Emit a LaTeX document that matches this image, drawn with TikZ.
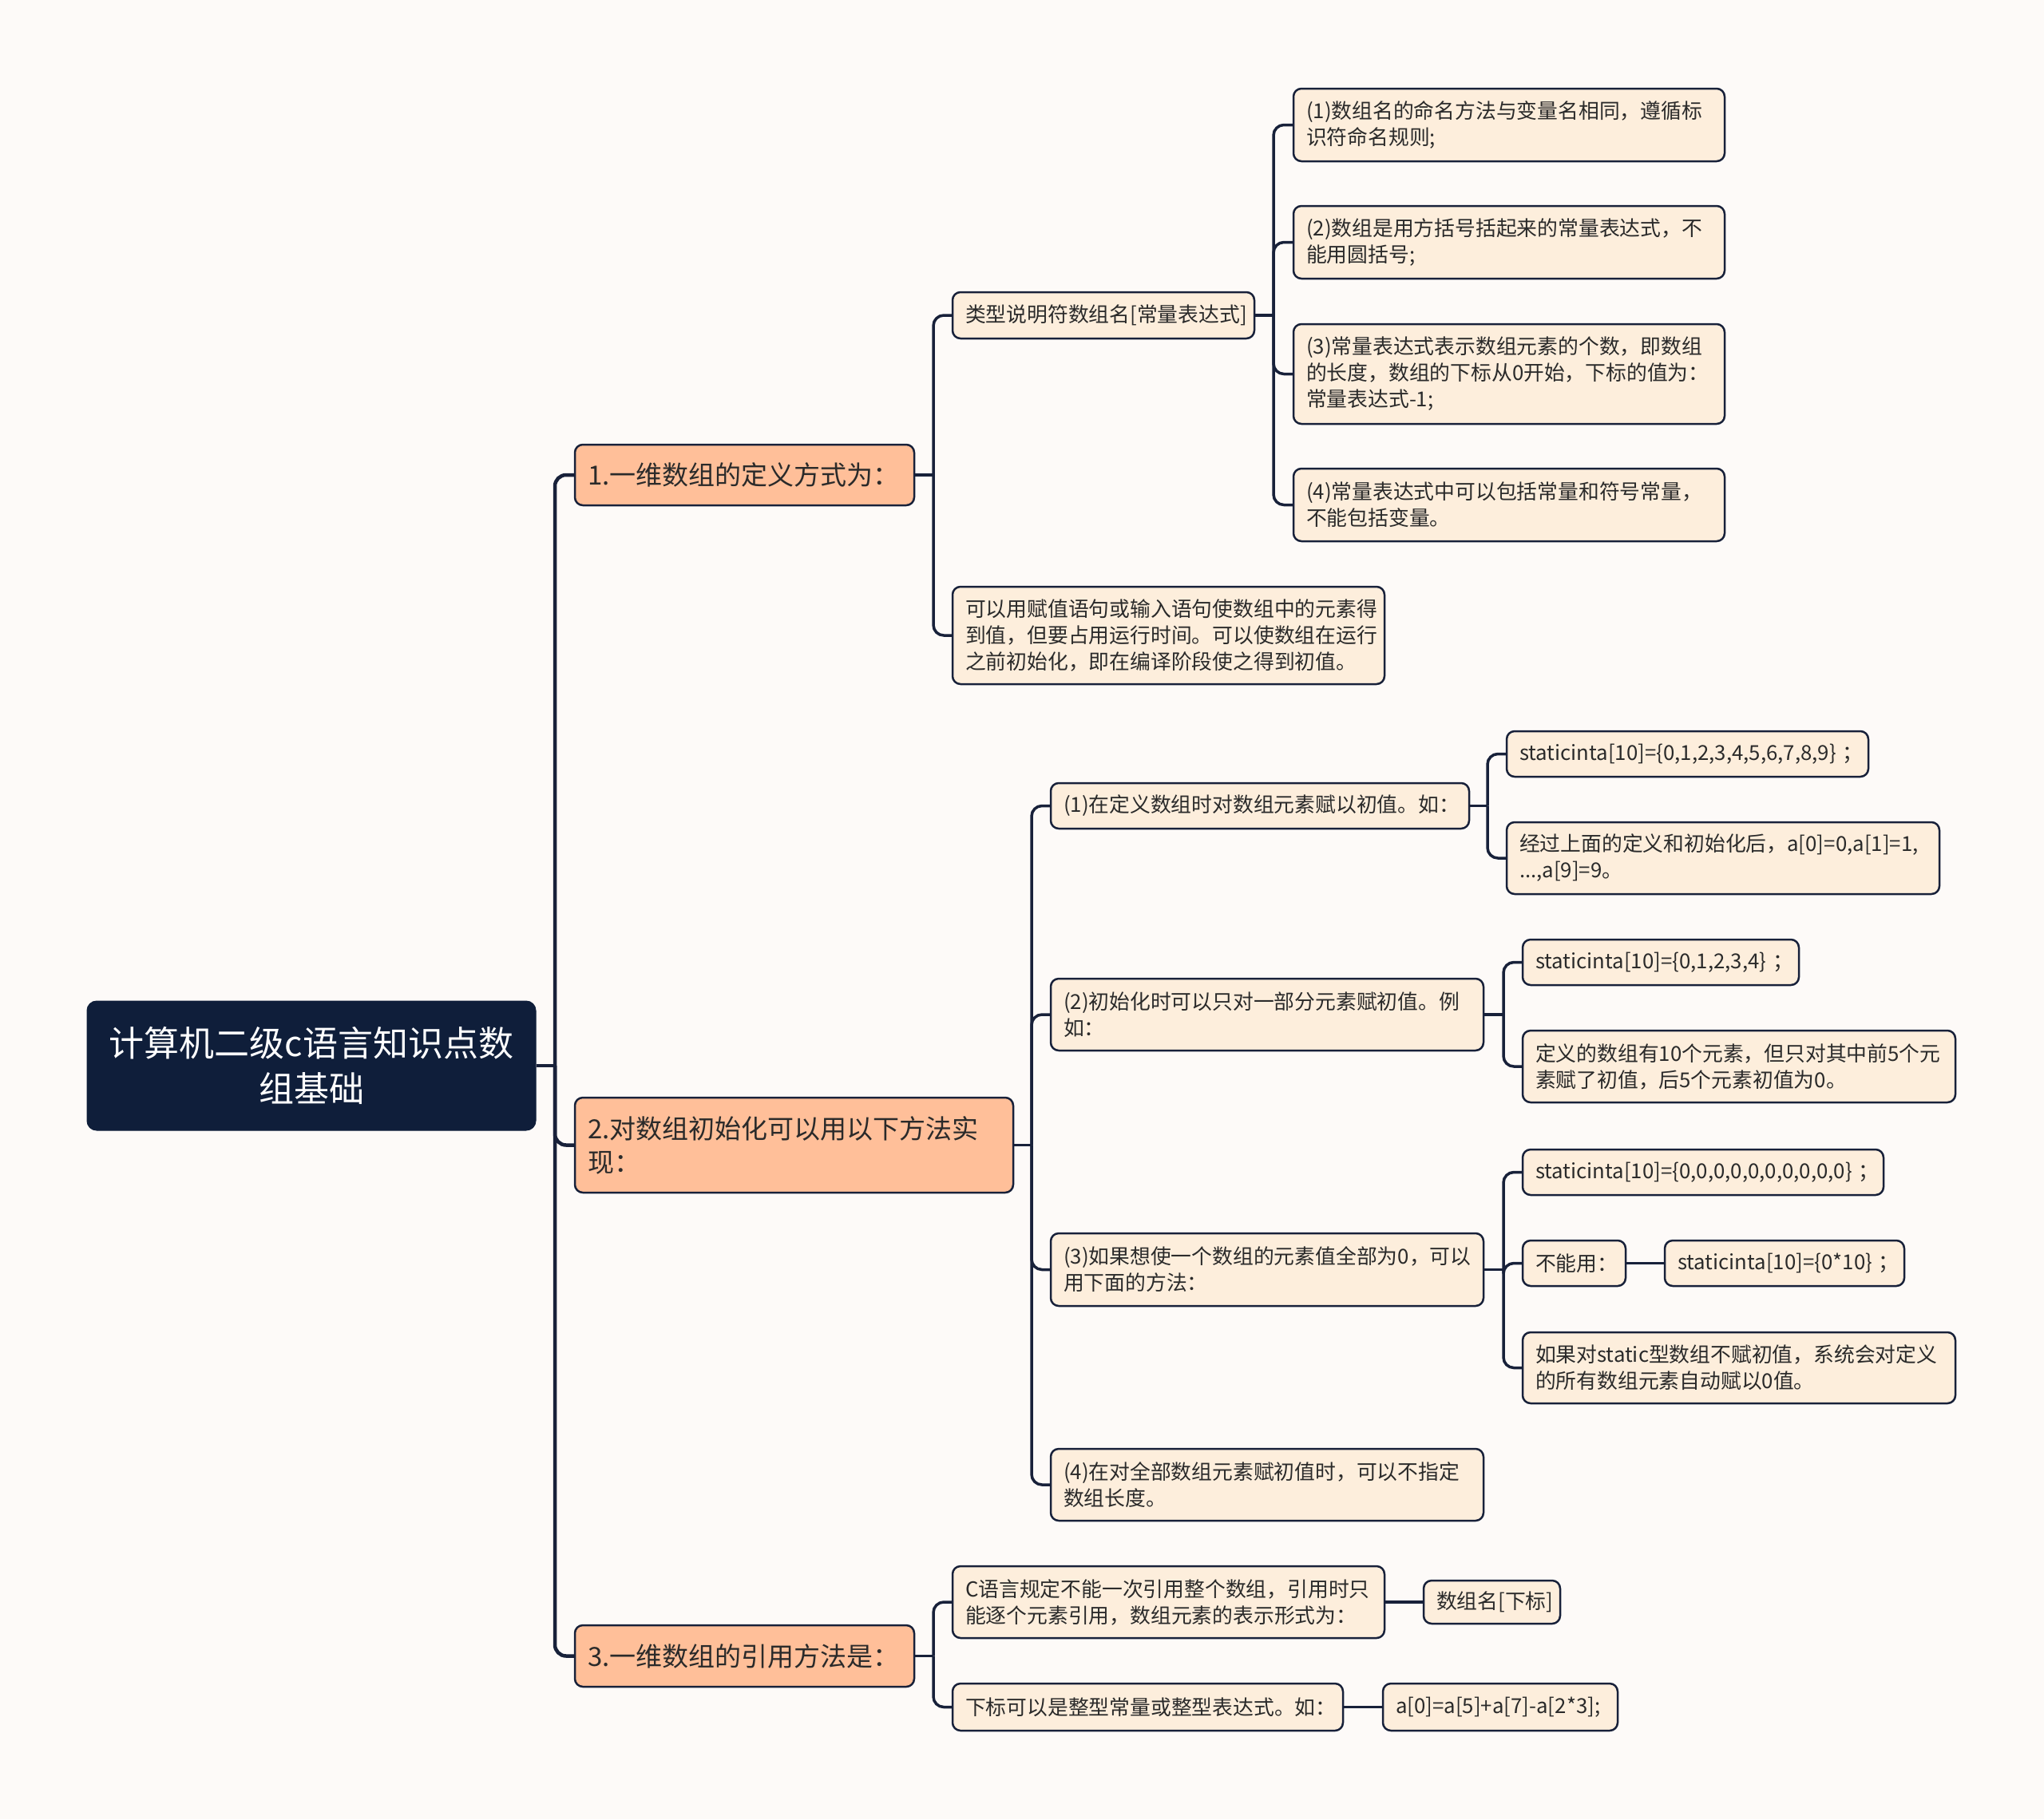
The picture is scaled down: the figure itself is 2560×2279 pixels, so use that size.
\documentclass[tikz,border=0pt]{standalone}
\usepackage{fontspec}
\setmainfont{Noto Sans CJK SC}
\definecolor{bg}{HTML}{FDFAF8}
\definecolor{navy}{HTML}{0F1E3A}
\definecolor{edge}{HTML}{18213A}
\definecolor{peach}{HTML}{FFBF99}
\definecolor{cream}{HTML}{FDEEDC}
\definecolor{txt}{HTML}{2A2A2A}
\tikzset{
  box/.style={draw=edge, line width=2.5pt, rounded corners=10pt, inner xsep=16pt, inner ysep=0pt, align=left, text=txt},
  lthree/.style={box, fill=cream, font=\fontsize{25.8pt}{33pt}\selectfont},
  lone/.style={box, fill=peach, font=\fontsize{33pt}{42pt}\selectfont},
  rootbox/.style={fill=navy, draw=navy, line width=1pt, rounded corners=12pt, inner xsep=16pt, inner ysep=0pt, text=white, align=center, font=\fontsize{44pt}{57pt}\selectfont},
  conn/.style={draw=edge, line width=3.5pt, rounded corners=13pt},
  rootconn/.style={draw=edge, line width=4.5pt, rounded corners=14pt}
}
\newcommand\bxnode[7]{%
  \pgfmathsetmacro\bxw{#5-#3}%
  \pgfmathsetmacro\bxh{#6-#4}%
  \pgfmathsetmacro\bxtw{#5-#3-32}%
  \pgfmathsetmacro\bxcx{(#3+#5)/2}%
  \pgfmathsetmacro\bxcy{(#4+#6)/2}%
  \node[#1, minimum width=\bxw pt, minimum height=\bxh pt, text width=\bxtw pt] (#2) at (\bxcx,\bxcy) {#7};}
\newcommand\cstub[3][conn]{\draw[#1] (#2.east) -- (#3 |- #2.east);}
\newcommand\cnx[4][conn]{\draw[#1] (#3 |- #2.east) |- (#4.west);}
\newcommand\fsemi{\kern0.3em；}
\begin{document}
\begin{tikzpicture}[x=1pt,y=-1pt]
\useasboundingbox (0,0) rectangle (2560,2279);
\fill[bg] (0,0) rectangle (2560,2279);

% trunks
\coordinate (t0) at (695,0);
\coordinate (t1) at (1169,0);
\coordinate (t1a) at (1595,0);
\coordinate (t2) at (1292,0);
\coordinate (tb1) at (1863,0);
\coordinate (tb2) at (1883,0);
\coordinate (tb3) at (1883,0);
\coordinate (t3) at (1169,0);

% root
\bxnode{rootbox}{root}{109}{1254}{671}{1416}{计算机二级c语言知识点数\\组基础}

% level 1
\bxnode{lone}{n1}{720}{557}{1145}{633}{1.一维数组的定义方式为：}
\bxnode{lone}{n2}{720}{1375}{1269}{1494}{2.对数组初始化可以用以下方法实\\现：}
\bxnode{lone}{n3}{720}{2036}{1145}{2113}{3.一维数组的引用方法是：}

% under 1
\bxnode{lthree}{n1a}{1193}{366}{1571}{424}{类型说明符数组名[常量表达式]}
\bxnode{lthree}{n1b}{1193}{735}{1734}{857}{可以用赋值语句或输入语句使数组中的元素得\\到值，但要占用运行时间。可以使数组在运行\\之前初始化，即在编译阶段使之得到初值。}

\bxnode{lthree}{a1}{1620}{111}{2160}{202}{(1)数组名的命名方法与变量名相同，遵循标\\识符命名规则;}
\bxnode{lthree}{a2}{1620}{258}{2160}{349}{(2)数组是用方括号括起来的常量表达式，不\\能用圆括号;}
\bxnode{lthree}{a3}{1620}{406}{2160}{531}{(3)常量表达式表示数组元素的个数，即数组\\的长度，数组的下标从0开始，下标的值为：\\常量表达式-1;}
\bxnode{lthree}{a4}{1620}{587}{2160}{678}{(4)常量表达式中可以包括常量和符号常量，\\不能包括变量。}

% under 2
\bxnode{lthree}{b1}{1316}{981}{1840}{1038}{(1)在定义数组时对数组元素赋以初值。如：}
\bxnode{lthree}{b2}{1316}{1226}{1858}{1316}{(2)初始化时可以只对一部分元素赋初值。例\\如：}
\bxnode{lthree}{b3}{1316}{1545}{1858}{1636}{(3)如果想使一个数组的元素值全部为0，可以\\用下面的方法：}
\bxnode{lthree}{b4}{1316}{1815}{1858}{1905}{(4)在对全部数组元素赋初值时，可以不指定\\数组长度。}

\bxnode{lthree}{b1a}{1887}{916}{2340}{973}{staticinta[10]=\{0,1,2,3,4,5,6,7,8,9\}\fsemi}
\bxnode{lthree}{b1b}{1887}{1030}{2429}{1120}{经过上面的定义和初始化后，a[0]=0,a[1]=1,\\...,a[9]=9。}
\bxnode{lthree}{b2a}{1907}{1177}{2253}{1234}{staticinta[10]=\{0,1,2,3,4\}\fsemi}
\bxnode{lthree}{b2b}{1907}{1291}{2449}{1381}{定义的数组有10个元素，但只对其中前5个元\\素赋了初值，后5个元素初值为0。}
\bxnode{lthree}{b3a}{1907}{1440}{2359}{1497}{staticinta[10]=\{0,0,0,0,0,0,0,0,0,0\}\fsemi}
\bxnode{lthree}{b3b}{1907}{1554}{2036}{1611}{不能用：}
\bxnode{lthree}{b3b1}{2085}{1554}{2385}{1611}{staticinta[10]=\{0*10\}\fsemi}
\bxnode{lthree}{b3c}{1907}{1669}{2449}{1758}{如果对static型数组不赋初值，系统会对定义\\的所有数组元素自动赋以0值。}

% under 3
\bxnode{lthree}{c1}{1193}{1962}{1734}{2052}{C语言规定不能一次引用整个数组，引用时只\\能逐个元素引用，数组元素的表示形式为：}
\bxnode{lthree}{c1a}{1783}{1980}{1954}{2034}{数组名[下标]}
\bxnode{lthree}{c2}{1193}{2109}{1682}{2168}{下标可以是整型常量或整型表达式。如：}
\bxnode{lthree}{c2a}{1732}{2109}{2026}{2168}{a[0]=a[5]+a[7]-a[2*3];}

% connectors: root
\cstub[rootconn]{root}{t0}
\cnx[rootconn]{root}{t0}{n1}
\cnx[rootconn]{root}{t0}{n2}
\cnx[rootconn]{root}{t0}{n3}

% 1
\cstub{n1}{t1}
\cnx{n1}{t1}{n1a}
\cnx{n1}{t1}{n1b}
\cstub{n1a}{t1a}
\cnx{n1a}{t1a}{a1}
\cnx{n1a}{t1a}{a2}
\cnx{n1a}{t1a}{a3}
\cnx{n1a}{t1a}{a4}

% 2
\cstub{n2}{t2}
\cnx{n2}{t2}{b1}
\cnx{n2}{t2}{b2}
\cnx{n2}{t2}{b3}
\cnx{n2}{t2}{b4}
\cstub{b1}{tb1}
\cnx{b1}{tb1}{b1a}
\cnx{b1}{tb1}{b1b}
\cstub{b2}{tb2}
\cnx{b2}{tb2}{b2a}
\cnx{b2}{tb2}{b2b}
\cstub{b3}{tb3}
\cnx{b3}{tb3}{b3a}
\cnx{b3}{tb3}{b3b}
\cnx{b3}{tb3}{b3c}
\draw[conn] (b3b.east) -- (b3b1.west);

% 3
\cstub{n3}{t3}
\cnx{n3}{t3}{c1}
\cnx{n3}{t3}{c2}
\draw[conn] (c1.east) -- (c1a.west);
\draw[conn] (c2.east) -- (c2a.west);
\end{tikzpicture}
\end{document}
